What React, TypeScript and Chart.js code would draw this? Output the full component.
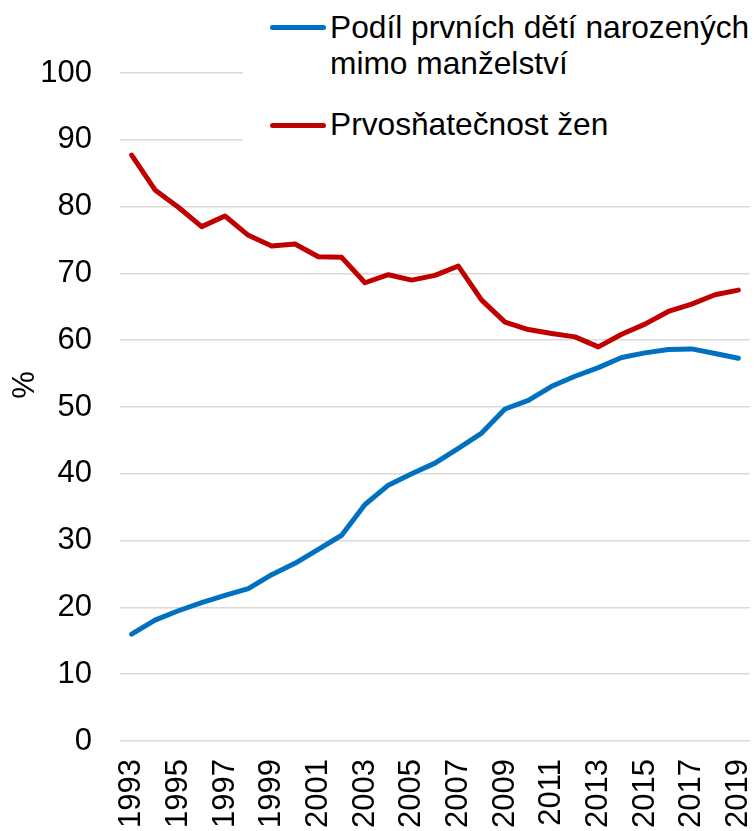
import React, { useEffect, useRef } from "react";
import { Chart, registerables } from "chart.js";

Chart.register(...registerables);

const years: string[] = [
  "1993", "1994", "1995", "1996", "1997", "1998", "1999", "2000", "2001",
  "2002", "2003", "2004", "2005", "2006", "2007", "2008", "2009", "2010",
  "2011", "2012", "2013", "2014", "2015", "2016", "2017", "2018", "2019",
];

const outsideMarriage: number[] = [
  16.0, 18.1, 19.5, 20.7, 21.8, 22.8, 24.9, 26.6, 28.7,
  30.8, 35.4, 38.3, 40.0, 41.6, 43.8, 46.1, 49.7, 51.0,
  53.1, 54.6, 55.9, 57.4, 58.1, 58.6, 58.7, 58.0, 57.3,
];

const firstMarriageRate: number[] = [
  87.7, 82.5, 79.9, 77.0, 78.6, 75.7, 74.1, 74.4, 72.5,
  72.4, 68.6, 69.8, 69.0, 69.7, 71.1, 66.0, 62.7, 61.6,
  61.0, 60.5, 59.0, 60.9, 62.4, 64.3, 65.4, 66.8, 67.5,
];

const seriesNames: string[] = [
  "Podíl prvních dětí narozených mimo manželství",
  "Prvosňatečnost žen",
];

const yTicks: number[] = [0, 10, 20, 30, 40, 50, 60, 70, 80, 90, 100];

const FONT = '"Liberation Sans", Arial, sans-serif';
const FONT_SIZE = 31;
const LEGEND_FONT_SIZE = 31.7;
const BLUE = "#0070C0";
const RED = "#C00000";

export default function App() {
  const canvasRef = useRef<HTMLCanvasElement | null>(null);

  useEffect(() => {
    const canvas = canvasRef.current;
    if (!canvas) return;
    const chart = new Chart(canvas, {
      type: "line",
      data: {
        labels: years,
        datasets: [
          {
            label: seriesNames[0],
            data: outsideMarriage,
            borderColor: BLUE,
            backgroundColor: BLUE,
            borderWidth: 5,
            pointRadius: 0,
            tension: 0,
            borderCapStyle: "round",
            borderJoinStyle: "round",
          },
          {
            label: seriesNames[1],
            data: firstMarriageRate,
            borderColor: RED,
            backgroundColor: RED,
            borderWidth: 5,
            pointRadius: 0,
            tension: 0,
            borderCapStyle: "round",
            borderJoinStyle: "round",
          },
        ],
      },
      options: {
        animation: false,
        responsive: false,
        maintainAspectRatio: false,
        layout: { padding: { top: 73, right: 5, left: 0, bottom: 0 } },
        plugins: {
          legend: { display: false },
          tooltip: { enabled: false },
        },
        scales: {
          x: {
            type: "category",
            offset: true,
            grid: { display: false, drawTicks: false },
            border: { display: false },
            ticks: {
              autoSkip: false,
              maxRotation: 90,
              minRotation: 90,
              padding: 18,
              color: "#000",
              font: { family: FONT, size: FONT_SIZE },
              callback: (_v: any, i: number) => (i % 2 === 0 ? years[i] : ""),
            },
            afterFit: (scale: any) => {
              scale.height = 90;
              scale.paddingLeft = 0;
              scale.paddingRight = 0;
            },
          },
          y: {
            min: 0,
            max: 100,
            afterBuildTicks: (scale: any) => {
              scale.ticks = yTicks.map((v) => ({ value: v }));
            },
            grid: { color: "#d9d9d9", lineWidth: 1.5, drawTicks: false },
            border: { display: false },
            ticks: {
              padding: 28,
              color: "#000",
              font: { family: FONT, size: FONT_SIZE },
            },
            afterFit: (scale: any) => {
              scale.width = 120;
              scale.paddingTop = 0;
              scale.paddingBottom = 0;
            },
          },
        },
      },
    });
    return () => chart.destroy();
  }, []);

  const textStyle: React.CSSProperties = {
    position: "absolute",
    fontFamily: FONT,
    fontSize: LEGEND_FONT_SIZE,
    lineHeight: "36px",
    color: "#000",
    whiteSpace: "nowrap",
  };

  return (
    <div
      style={{
        position: "absolute",
        left: 0,
        top: 0,
        width: 755,
        height: 831,
        overflow: "hidden",
        background: "#fff",
      }}
    >
      <canvas ref={canvasRef} width={755} height={831} style={{ display: "block" }} />
      <div
        style={{
          position: "absolute",
          left: 243,
          top: 0,
          width: 512,
          height: 165,
          background: "#fff",
        }}
      >
        <div
          style={{
            position: "absolute",
            left: 270 - 243,
            top: 25,
            width: 56,
            height: 5,
            borderRadius: 3,
            background: BLUE,
          }}
        />
        <div style={{ ...textStyle, left: 330 - 243, top: 9 }}>
          Podíl prvních dětí narozených
          <br />
          mimo manželství
        </div>
        <div
          style={{
            position: "absolute",
            left: 270 - 243,
            top: 123,
            width: 56,
            height: 5,
            borderRadius: 3,
            background: RED,
          }}
        />
        <div style={{ ...textStyle, left: 330 - 243, top: 106 }}>{seriesNames[1]}</div>
      </div>
      <div
        style={{
          position: "absolute",
          left: 24 - 20,
          top: 385 - 18,
          width: 40,
          height: 36,
          textAlign: "center",
          fontFamily: FONT,
          fontSize: FONT_SIZE,
          lineHeight: "36px",
          color: "#000",
          transform: "rotate(-90deg)",
        }}
      >
        %
      </div>
    </div>
  );
}
